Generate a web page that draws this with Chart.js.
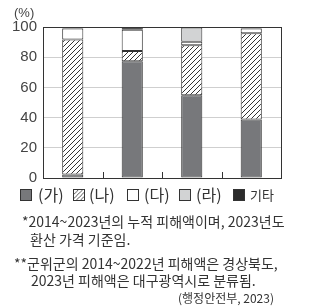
<!DOCTYPE html>
<html><head><meta charset="utf-8">
<script src="https://cdn.jsdelivr.net/npm/chart.js@4"></script>
<style>
html,body{margin:0;padding:0;background:#fff;}
body{width:325px;height:306px;position:relative;overflow:hidden;font-family:"Noto Sans CJK KR","Noto Sans",sans-serif;color:#333;}
#wrap{position:absolute;left:0;top:0;width:325px;height:193px;}
.t{position:absolute;white-space:nowrap;line-height:1;}
.sw{position:absolute;width:12px;height:12px;border:1px solid #333;box-sizing:border-box;}
</style></head><body>
<div id="wrap"><canvas id="c" width="325" height="193"></canvas></div>
<div class="t" style="left:14px;top:6px;font-family:'Liberation Sans',Arial,sans-serif;font-size:13px;color:#444;">(%)</div>

<div class="sw" style="left:20px;top:189px;background:#77787b;"></div>
<div class="t" style="left:38px;top:186px;font-size:16px;">(가)</div>
<canvas class="sw" id="hsw" width="12" height="12" style="left:73px;top:189px;"></canvas>
<div class="t" style="left:89px;top:186px;font-size:16px;">(나)</div>
<div class="sw" style="left:127px;top:189px;background:#fff;"></div>
<div class="t" style="left:144px;top:186px;font-size:16px;">(다)</div>
<div class="sw" style="left:179px;top:189px;background:#d2d3d4;"></div>
<div class="t" style="left:196px;top:186px;font-size:16px;">(라)</div>
<div class="sw" style="left:233px;top:189px;background:#2b2b2b;"></div>
<div class="t" style="left:250px;top:188px;font-size:13px;">기타</div>

<div class="t" style="left:22px;top:214px;font-size:14px;">*2014~2023년의 누적 피해액이며, 2023년도</div>
<div class="t" style="left:30px;top:232px;font-size:14px;">환산 가격 기준임.</div>
<div class="t" style="left:14px;top:256px;font-size:14px;">**군위군의 2014~2022년 피해액은 경상북도,</div>
<div class="t" style="left:31px;top:273px;font-size:14px;">2023년 피해액은 대구광역시로 분류됨.</div>
<div class="t" style="left:178px;top:292px;font-size:12px;">(행정안전부, 2023)</div>

<script>
const categories = ["A", "B", "C", "D"];
const seriesNames = ["(가)", "(나)", "(다)", "(라)", "기타"];
const ga   = [2.3, 77.3, 54.8, 38.7];
const na   = [89.5, 6.8, 33.1, 57.2];
const da   = [7.2, 14.1, 2.3, 3.1];
const ra   = [0, 0, 9.4, 0];
const etc  = [1.0, 1.8, 0.4, 1.0];
const yTicks = [0, 20, 40, 60, 80, 100];

function hatch(size){
  const c = document.createElement('canvas');
  c.width = size; c.height = size;
  const x = c.getContext('2d');
  x.fillStyle = '#fff'; x.fillRect(0,0,size,size);
  x.strokeStyle = '#333'; x.lineWidth = 1;
  x.beginPath();
  x.moveTo(0,size); x.lineTo(size,0);
  x.moveTo(-1,1); x.lineTo(1,-1);
  x.moveTo(size-1,size+1); x.lineTo(size+1,size-1);
  x.stroke();
  return c;
}
const hcanvas = hatch(5);
const ctx = document.getElementById('c').getContext('2d');
const hpat = ctx.createPattern(hcanvas, 'repeat');
const sw = document.getElementById('hsw').getContext('2d');
sw.fillStyle = sw.createPattern(hcanvas,'repeat'); sw.fillRect(0,0,12,12);

const colors = ['#77787b', hpat, '#ffffff', '#d2d3d4', '#2b2b2b'];
const values = [ga, na, da, ra, etc];

const frame = {
  id: 'frame',
  afterDatasetsDraw(chart){
    const {ctx, chartArea:a, scales:{x}} = chart;
    ctx.save();
    ctx.strokeStyle = '#333'; ctx.lineWidth = 1;
    ctx.beginPath();
    ctx.moveTo(a.right+0.5, a.top); ctx.lineTo(a.right+0.5, a.bottom);
    for(let i=0;i<categories.length-1;i++){
      const px = Math.round((x.getPixelForValue(i)+x.getPixelForValue(i+1))/2)+0.5;
      ctx.moveTo(px, a.bottom); ctx.lineTo(px, a.bottom-6);
    }
    ctx.stroke();
    ctx.restore();
  }
};

new Chart(ctx, {
  type: 'bar',
  data: {
    labels: categories,
    datasets: seriesNames.map((n,i)=>({
      label: n, data: values[i], backgroundColor: colors[i],
      borderColor: '#333', borderWidth: 1, borderSkipped: false,
      barPercentage: 0.355, categoryPercentage: 1
    }))
  },
  options: {
    responsive: false, animation: false,
    layout: {padding: {top: 27, right: 44, left: 0, bottom: 0}},
    plugins: {legend: {display: false}, tooltip: {enabled: false}},
    scales: {
      x: {
        stacked: true,
        ticks: {display: false},
        grid: {display: false, drawTicks: false},
        border: {display: true, color: '#333'},
        afterFit(s){ s.height = 4; }
      },
      y: {
        stacked: true, min: 0, max: 100,
        afterBuildTicks(s){ s.ticks = yTicks.map(v=>({value:v})); },
        ticks: {color: '#444', padding: 6, font: {family: "'Liberation Sans', Arial, sans-serif", size: 15}},
        grid: {drawTicks: false, color: c => (c.tick && (c.tick.value===0||c.tick.value===100)) ? '#333' : '#cfcfcf'},
        border: {display: true, color: '#333'},
        afterFit(s){ s.width = 43; }
      }
    }
  },
  plugins: [frame]
});
</script>
</body></html>
